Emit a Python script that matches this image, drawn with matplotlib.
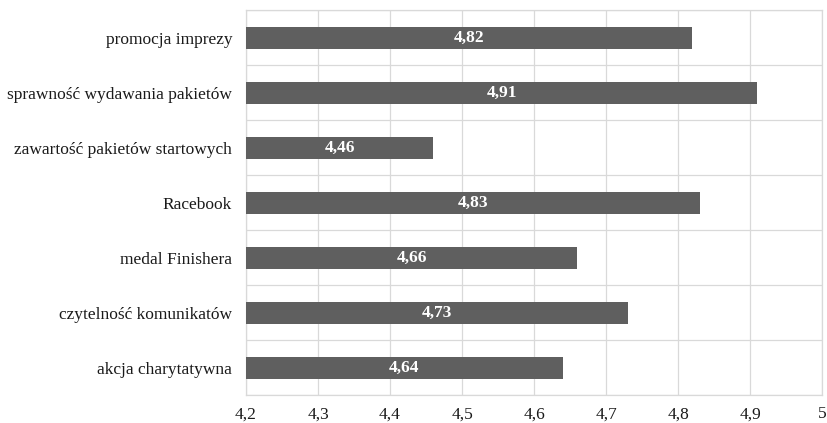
import matplotlib.pyplot as plt
from matplotlib.ticker import FixedLocator

kategorie = ["promocja imprezy", "sprawność wydawania pakietów",
             "zawartość pakietów startowych", "Racebook", "medal Finishera",
             "czytelność komunikatów", "akcja charytatywna"]
oceny = [4.82, 4.91, 4.46, 4.83, 4.66, 4.73, 4.64]
ticki = [4.2, 4.3, 4.4, 4.5, 4.6, 4.7, 4.8, 4.9, 5.0]
tick_etykiety = ["4,2", "4,3", "4,4", "4,5", "4,6", "4,7", "4,8", "4,9", "5"]

plt.rcParams['font.family'] = ['Liberation Serif', 'DejaVu Serif']

fig = plt.figure(figsize=(8.27, 4.23), dpi=100)
ax = fig.add_axes([0.2975, 0.066, 0.6965, 0.910])

pos = list(range(len(kategorie)))[::-1]
bars = ax.barh(pos, [v - 4.2 for v in oceny], left=4.2, height=0.4,
               color='#5f5f5f', zorder=3)

# wartosci na slupkach
for b, v in zip(bars, oceny):
    ax.text(b.get_x() + b.get_width() / 2, b.get_y() + b.get_height() / 2,
            f"{v:.2f}".replace('.', ','), ha='center', va='center',
            color='white', fontweight='bold', fontsize=12.5, zorder=4)

ax.set_xlim(4.2, 5.0)
ax.set_ylim(-0.5, len(kategorie) - 0.5)
ax.set_xticks(ticki)
ax.set_xticklabels(tick_etykiety, fontsize=12.5)
ax.set_yticks(pos)
ax.set_yticklabels(kategorie, fontsize=12.5)
ax.yaxis.set_minor_locator(FixedLocator([p + 0.5 for p in range(-1, len(kategorie))]))

ax.grid(True, axis='x', color='#d9d9d9', linewidth=0.9, zorder=0)
ax.grid(True, axis='y', which='minor', color='#d9d9d9', linewidth=0.9, zorder=0)
ax.tick_params(axis='both', which='both', length=0, colors='#1a1a1a')
ax.tick_params(axis='x', pad=8)
ax.tick_params(axis='y', pad=10)
for s in ax.spines.values():
    s.set_color('#d9d9d9')
    s.set_linewidth(0.9)

fig.savefig('out.png', dpi=100)
